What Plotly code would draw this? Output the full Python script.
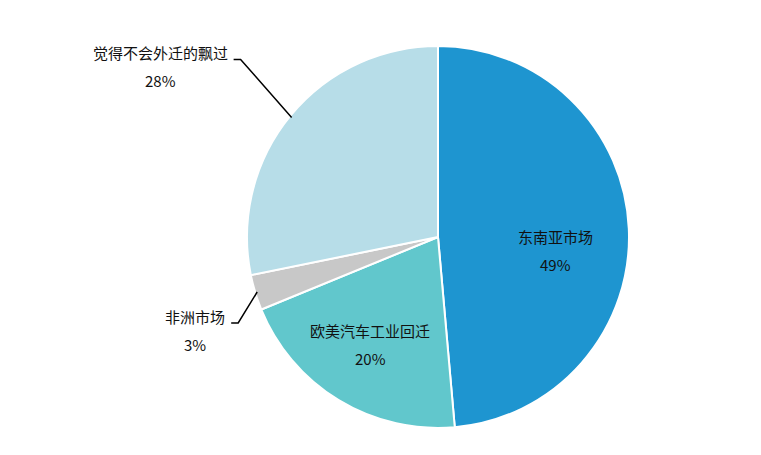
import math

import plotly.graph_objects as go

# data (slice shares in %, labels show them rounded)
labels = ["东南亚市场", "欧美汽车工业回迁", "非洲市场", "觉得不会外迁的飘过"]
values = [48.6, 20.2, 3.0, 28.2]
colors = ["#1E95D0", "#61C7CC", "#C8C8C8", "#B7DDE8"]
label_inside = [True, True, False, False]

W, H = 761, 455
M_T, M_B = 46, 27
CX, CY, R = 438, 237, 191
FONT = "Noto Sans CJK SC, Noto Sans, sans-serif"
FS = 15


def px_to_paper(px, py):
    return px / W, (H - M_B - py) / (H - M_T - M_B)


fig = go.Figure()
fig.add_trace(
    go.Pie(
        labels=labels,
        values=values,
        sort=False,
        direction="clockwise",
        rotation=0,
        textinfo="none",
        hoverinfo="label+percent",
        marker=dict(colors=colors, line=dict(color="white", width=2)),
        domain=dict(x=[(CX - R) / W, (CX + R) / W], y=[0, 1]),
        showlegend=False,
    )
)

# inside label tweaks: (radius fraction, angle shift in degrees)
inside_adj = {0: (0.62, 9), 1: (0.665, 1)}
# outside leader elbow offsets from slice edge, in px
elbow_adj = {2: (-19, 31), 3: (-51, -58)}

total = sum(values)
annotations = []
shapes = []
cum = 0
for i, (lab, v) in enumerate(zip(labels, values)):
    mid = (cum + v / 2) / total * 360
    cum += v
    pct = f"{v / total * 100:.0f}%"
    if label_inside[i]:
        rf, shift = inside_adj[i]
        a = math.radians(mid + shift)
        px = CX + rf * R * math.sin(a)
        py = CY - rf * R * math.cos(a)
        for text, dy in [(lab, -14), (pct, 14)]:
            x, y = px_to_paper(px, py + dy)
            annotations.append(dict(x=x, y=y, xref="paper", yref="paper", text=text,
                                    showarrow=False, xanchor="center", yanchor="middle",
                                    font=dict(family=FONT, size=FS, color="#111")))
    else:
        a = math.radians(mid)
        ex = CX + (R - 2) * math.sin(a)
        ey = CY - (R - 2) * math.cos(a)
        ox, oy = elbow_adj[i]
        kx, ky = ex + ox, ey + oy
        tx = kx - 7
        p = [px_to_paper(ex, ey), px_to_paper(kx, ky), px_to_paper(tx, ky)]
        shapes.append(dict(type="path", xref="paper", yref="paper",
                           path=f"M {p[0][0]},{p[0][1]} L {p[1][0]},{p[1][1]} L {p[2][0]},{p[2][1]}",
                           line=dict(color="black", width=1.5)))
        right = tx - 4
        width = len(lab) * FS
        x, y = px_to_paper(right, ky - 7)
        annotations.append(dict(x=x, y=y, xref="paper", yref="paper", text=lab,
                                showarrow=False, xanchor="right", yanchor="middle",
                                font=dict(family=FONT, size=FS, color="#111")))
        x, y = px_to_paper(right - width / 2 - 2, ky + 21)
        annotations.append(dict(x=x, y=y, xref="paper", yref="paper", text=pct,
                                showarrow=False, xanchor="center", yanchor="middle",
                                font=dict(family=FONT, size=FS, color="#111")))

fig.update_layout(
    width=W,
    height=H,
    margin=dict(l=0, r=0, t=M_T, b=M_B),
    paper_bgcolor="white",
    plot_bgcolor="white",
    annotations=annotations,
    shapes=shapes,
)

# drop the default page margin so the chart sits at the window's corner
fig.write_html("out.html", config={"displayModeBar": False},
               post_script="document.body.style.margin='0';")
